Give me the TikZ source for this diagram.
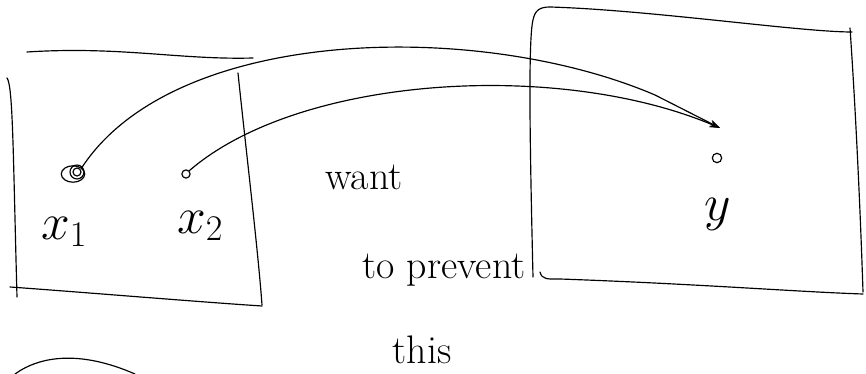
\RequirePackage{fix-cm}
\documentclass[tikz,border=0pt]{standalone}
\usetikzlibrary{arrows.meta,shapes.geometric}
\begin{document}
\begin{tikzpicture}[x=0.03cm,y=-0.03cm,line width=0.9pt,line cap=round,
    every node/.style={font=\fontsize{34}{38}\selectfont},
    pen/.style={line width=1pt},
    mark label/.style={font=\fontsize{44}{48}\selectfont},
    link/.style={pen,-{Stealth[length=9pt,width=6pt,open]}}]
    \useasboundingbox (0,0) rectangle (866,374);
    % left box (no top edge, a loose stroke above it)
    \draw[pen] (27,52) .. controls (120,46) and (180,60) .. (253,58);
    \draw[pen] (7,78) .. controls (13,86) and (13,150) .. (17,297);
    \draw[pen] (10,287) .. controls (80,292) and (200,302) .. (262,306);
    \draw[pen] (238,73) .. controls (246,150) and (258,250) .. (262,305);
    % right box
    \draw[pen] (533,277) .. controls (530,150) and (528,40) .. (533,20)
        .. controls (535,10) and (540,7) .. (550,7)
        .. controls (650,10) and (800,32) .. (852,32);
    \draw[pen] (850,28) .. controls (855,100) and (860,200) .. (863,292);
    \draw[pen] (540,272) .. controls (542,280) and (548,279) .. (560,279)
        .. controls (700,284) and (800,292) .. (863,294);
    % points
    \node[draw,pen,ellipse,minimum width=20pt,minimum height=14pt,inner sep=0pt] (xone) at (73,174) {};
    \foreach \rr in {4,7} {\draw[pen] (77,172) circle (\rr);}
    \node[draw,pen,circle,minimum size=7pt,inner sep=0pt] (xtwo) at (186,174) {};
    \node[draw,pen,circle,minimum size=8pt,inner sep=0pt] (ydot) at (717,158) {};
    \coordinate (tip) at (720,128);
    % labels
    \node[mark label] (xonelab) at (64,232) {$x_1$};
    \node[mark label] (xtwolab) at (200,226) {$x_2$};
    \node[mark label] (ylab) at (718,214) {$y$};
    % connectors
    \draw[link] (xone.north east) .. controls (175,25) and (480,20) .. (655,95) -- (tip);
    \draw[link] (xtwo.north east) .. controls (300,75) and (560,60) .. (tip);
    % text in the middle
    \node (want) at (364,177) {want};
    \node (prevent) at (444,270) {to prevent};
    \node (this) at (422,350) {this};
    % stroke at the bottom left
    \draw[pen] (15,374) .. controls (40,356) and (80,350) .. (135,374);
\end{tikzpicture}
\end{document}
